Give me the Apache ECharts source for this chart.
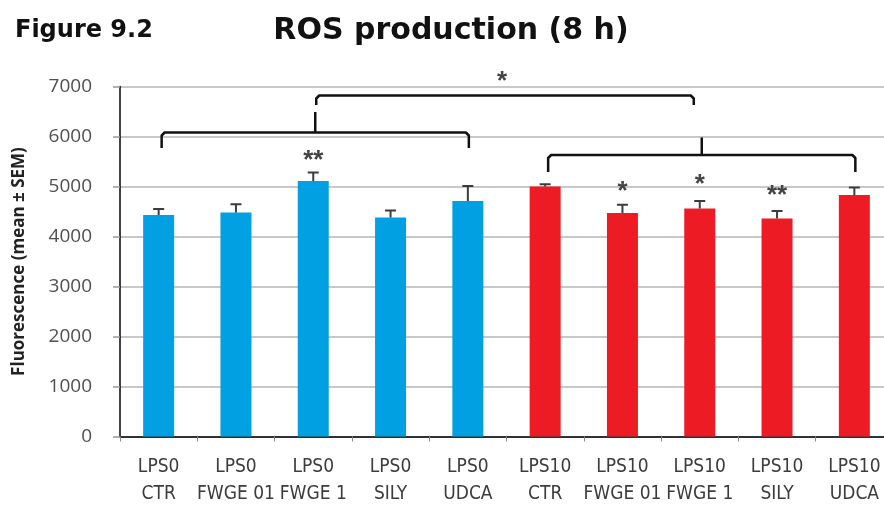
<!DOCTYPE html>
<html>
<head>
<meta charset="utf-8">
<script src="https://cdn.jsdelivr.net/npm/echarts@6/dist/echarts.min.js"></script>
<style>
  html, body { margin: 0; padding: 0; background: #fff; }
  #chart { width: 884px; height: 508px; }
</style>
</head>
<body>
<div id="chart"></div>
<script>
// Treatment groups (two-line axis labels)
const categories = [
  'LPS0\nCTR', 'LPS0\nFWGE 01', 'LPS0\nFWGE 1', 'LPS0\nSILY', 'LPS0\nUDCA',
  'LPS10\nCTR', 'LPS10\nFWGE 01', 'LPS10\nFWGE 1', 'LPS10\nSILY', 'LPS10\nUDCA'
];
// Fluorescence, mean and SEM
const means = [4430, 4480, 5110, 4380, 4710, 5000, 4470, 4560, 4360, 4830];
const sems  = [120, 165, 170, 140, 300, 45, 165, 150, 150, 150];
// LPS dose per group (0 or 10)
const lpsDose = [0, 0, 0, 0, 0, 10, 10, 10, 10, 10];
// Significance marks above single bars and the value height where they sit
const starText  = ['', '', '**', '', '', '', '*', '*', '**', ''];
const starLevel = [null, null, 5520, null, null, null, 4900, 5030, 4810, null];
// Group brackets: [first index, last index, bar height, leg end, tip index pair, tip top, mark]
const brackets = [
  [0, 4, 6080, 5770, [2, 2], 6490, ''],
  [5, 9, 5630, 5290, [7, 7], 5980, ''],
  [2, 7, 6820, 6630, [2, 7], 6820, '*']
];
// Y axis ticks
const yMin = 0, yMax = 7000, yStep = 1000;

const blue = '#00A0E3', red = '#ED1C24';

const chart = echarts.init(document.getElementById('chart'), null, { renderer: 'canvas' });

chart.setOption({
  animation: false,
  backgroundColor: '#ffffff',
  title: [
    {
      text: 'Figure 9.2', left: 10, top: 14,
      textStyle: { fontFamily: 'DejaVu Sans', fontWeight: 'bold', fontSize: 24, color: '#111' }
    },
    {
      text: 'ROS production (8 h)', left: 446, top: 11, textAlign: 'center',
      textStyle: { fontFamily: 'DejaVu Sans', fontWeight: 'bold', fontSize: 30, color: '#111' }
    }
  ],
  grid: { left: 120, width: 773, top: 86.5, bottom: 71.5, outerBoundsMode: 'none', containLabel: false },
  xAxis: {
    type: 'category',
    data: categories,
    axisLine: { lineStyle: { color: '#000', width: 1.5 } },
    axisTick: { show: true, alignWithLabel: false, length: 5, lineStyle: { color: '#888', width: 1 } },
    axisLabel: {
      interval: 0, margin: 17, color: '#3c3c3c', fontSize: 19, lineHeight: 27,
      fontFamily: '"DejaVu Sans Condensed", "DejaVu Sans", sans-serif'
    }
  },
  yAxis: {
    type: 'value', min: yMin, max: yMax, interval: yStep,
    name: 'Fluorescence (mean \u00b1 SEM)', nameLocation: 'middle', nameGap: 92,
    nameTextStyle: { fontFamily: 'Open Sans', fontWeight: 'bold', fontSize: 17, color: '#222' },
    axisLine: { show: true, lineStyle: { color: '#000', width: 1.5 } },
    axisTick: { show: true, inside: false, length: 7, lineStyle: { color: '#999', width: 1.5 } },
    axisLabel: {
      margin: 28, color: '#505050', fontSize: 19, fontFamily: 'Open Sans',
      formatter: v => String(v)
    },
    splitLine: { lineStyle: { color: '#c8c8c8', width: 2 } }
  },
  series: [
    {
      type: 'bar',
      barWidth: 31,
      data: means.map((v, i) => ({ value: v, itemStyle: { color: lpsDose[i] === 0 ? blue : red } })),
      z: 2
    },
    {
      // upper error whiskers
      type: 'custom',
      data: means.map((v, i) => [i, v, v + sems[i]]),
      encode: { x: 0, y: [1, 2] },
      z: 3,
      renderItem: function (params, api) {
        const lo = api.coord([api.value(0), api.value(1)]);
        const hi = api.coord([api.value(0), api.value(2)]);
        const half = 5.5;
        const st = { stroke: '#3c3c3c', lineWidth: 2 };
        return {
          type: 'group',
          children: [
            { type: 'line', shape: { x1: lo[0], y1: lo[1], x2: hi[0], y2: hi[1] }, style: st },
            { type: 'line', shape: { x1: hi[0] - half, y1: hi[1], x2: hi[0] + half, y2: hi[1] }, style: st }
          ]
        };
      }
    },
    {
      // significance marks above bars
      type: 'custom',
      data: starLevel.map((v, i) => [i, v == null ? 0 : v, starText[i]]).filter(d => d[2] !== ''),
      encode: { x: 0, y: 1 },
      z: 4,
      renderItem: function (params, api) {
        const p = api.coord([api.value(0), api.value(1)]);
        const d = params.dataIndex;
        const list = starLevel.map((v, i) => [i, v, starText[i]]).filter(x => x[2] !== '');
        return {
          type: 'text',
          style: {
            x: p[0], y: p[1], text: list[d][2], align: 'center', verticalAlign: 'middle',
            font: 'bold 26px "Liberation Sans", sans-serif', fill: '#444'
          }
        };
      }
    },
    {
      // group comparison brackets
      type: 'custom',
      data: brackets.map((b, k) => [b[0], b[2], b[1], b[3], b[5], k]),
      encode: { x: [0, 2], y: [1, 3, 4] },
      z: 5,
      clip: false,
      renderItem: function (params, api) {
        const b = brackets[params.dataIndex];
        const left = api.coord([b[0], b[2]]);
        const right = api.coord([b[1], b[2]]);
        const legY = api.coord([b[0], b[3]])[1];
        const tipX = (api.coord([b[4][0], 0])[0] + api.coord([b[4][1], 0])[0]) / 2 + 2;
        const tipY = api.coord([0, b[5]])[1];
        const x1 = left[0] + 3, x2 = right[0] - (b[6] ? 6 : -1), y = left[1];
        const st = { stroke: '#111', lineWidth: 2.5, fill: null, lineJoin: 'round' };
        const kids = [
          { type: 'polyline', shape: { points: [[x1, legY], [x1, y + 3], [x1 + 3, y], [x2 - 3, y], [x2, y + 3], [x2, legY]] }, style: st }
        ];
        if (!b[6]) {
          kids.push({ type: 'line', shape: { x1: tipX, y1: y, x2: tipX, y2: tipY }, style: st });
        } else {
          kids.push({
            type: 'text',
            style: {
              x: (x1 + x2) / 2 - 3, y: y - 14, text: b[6], align: 'center', verticalAlign: 'middle',
              font: 'bold 26px "Liberation Sans", sans-serif', fill: '#444'
            }
          });
        }
        return { type: 'group', children: kids };
      }
    }
  ]
});
</script>
</body>
</html>
